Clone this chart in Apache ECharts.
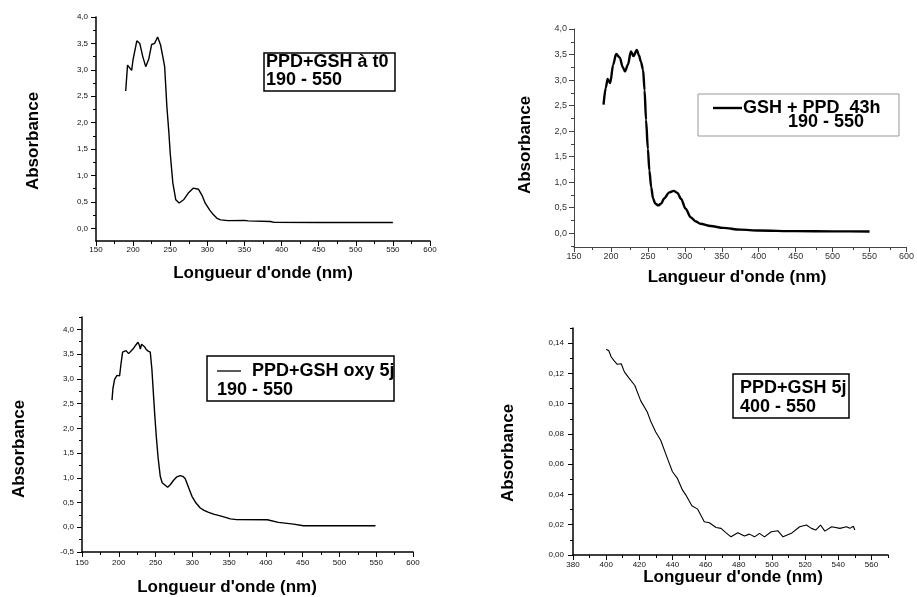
<!DOCTYPE html>
<html><head><meta charset="utf-8">
<script src="https://cdn.jsdelivr.net/npm/echarts@6/dist/echarts.min.js"></script>
<style>html,body{margin:0;padding:0;background:#fff}#c{width:917px;height:597px}</style>
</head><body><div id="c"></div>
<script>
// ---------- data ----------
const wl1 = [190,192.5,195,198,200,205,209,213,217,221,225,229,233,237,240,242.5,245.5,248,250,253.5,257.5,262,268,275,281,288,293,297,303,308,313,318,328,350,355,385,390,450,550];
const abs1 = [2.60,3.09,3.12,2.99,3.20,3.55,3.50,3.25,3.06,3.20,3.48,3.50,3.62,3.47,3.25,3.06,2.30,1.85,1.42,0.86,0.54,0.48,0.54,0.68,0.76,0.74,0.62,0.48,0.35,0.26,0.19,0.16,0.145,0.15,0.14,0.13,0.113,0.11,0.11];

const wl2 = [190,193,195.5,199,203,207,212,216,219,223,227,230.5,235,238,240.5,243.5,245.5,247.5,250,252,254.5,257,260,264,268,272,279,285,290,295,301,308,315,321,335,352,375,400,450,500,550];
const abs2 = [2.52,2.85,3.02,2.94,3.30,3.51,3.44,3.25,3.17,3.30,3.56,3.47,3.59,3.48,3.36,3.20,2.80,2.22,1.65,1.23,0.90,0.68,0.58,0.545,0.58,0.68,0.80,0.83,0.79,0.67,0.48,0.31,0.23,0.185,0.14,0.105,0.07,0.053,0.04,0.037,0.035];

const wl3 = [190.8,192,194.3,197.6,201.1,203,205.2,207,209.8,213.4,216,220.2,223,226.1,228,229.3,231,232.9,235,237,240,242.8,245,247.3,249,251,253.5,256.4,259,261,266.4,270,274.5,279,283.6,287,290.4,295,299.5,305,310.8,316,322.1,330,338,345,351.6,360,402,403,417,437.6,451,489,490.7,492,549];
const abs3 = [2.57,2.80,2.99,3.07,3.06,3.30,3.54,3.50,3.57,3.51,3.55,3.62,3.68,3.74,3.68,3.60,3.70,3.72,3.65,3.60,3.56,3.54,3.20,2.65,2.25,1.84,1.40,1.03,0.90,0.86,0.81,0.86,0.95,1.02,1.045,1.03,0.98,0.80,0.625,0.49,0.39,0.34,0.30,0.26,0.23,0.20,0.17,0.155,0.152,0.12,0.098,0.064,0.03,0.03,0.00,0.03,0.03];

const wl4 = [400,401.6,403,404.6,406.7,409.1,411,413.7,417.3,420.8,424.8,427,429.9,432.9,437,440,443,446,448.1,451.7,455.2,459.2,462.2,466.3,469.3,472,475.3,479.4,483.4,486.4,489.5,492.5,495.5,499.6,503.6,506.7,511.7,516.7,520.8,523.8,526.4,529.3,531.9,536,541,545,547,549.1,550];
const abs4 = [0.136,0.135,0.131,0.1286,0.126,0.1264,0.121,0.117,0.112,0.102,0.0945,0.088,0.0813,0.0758,0.0637,0.055,0.0506,0.043,0.0396,0.0325,0.0303,0.022,0.0213,0.0182,0.0176,0.015,0.012,0.0147,0.0125,0.0138,0.012,0.0143,0.012,0.0154,0.016,0.012,0.0143,0.0187,0.0198,0.0176,0.0165,0.0198,0.0158,0.0187,0.0176,0.0187,0.0176,0.019,0.0165];

// ---------- ticks ----------
const xMajorA = [150,200,250,300,350,400,450,500,550,600];
const xMinorA = [175,225,275,325,375,425,475,525,575];
const yMajor1 = [0,0.5,1,1.5,2,2.5,3,3.5,4];
const yMinor1 = [0.25,0.75,1.25,1.75,2.25,2.75,3.25,3.75];
const yMajor2 = [0,0.5,1,1.5,2,2.5,3,3.5,4];
const yMinor2 = [-0.25,0.25,0.75,1.25,1.75,2.25,2.75,3.25,3.75];
const yMajor3 = [-0.5,0,0.5,1,1.5,2,2.5,3,3.5,4];
const yMinor3 = [-0.25,0.25,0.75,1.25,1.75,2.25,2.75,3.25,3.75,4.25];
const xMajor4 = [380,400,420,440,460,480,500,520,540,560];
const xMinor4 = [390,410,430,450,470,490,510,530,550,570];
const yMajor4 = [0,0.02,0.04,0.06,0.08,0.10,0.12,0.14];
const yMinor4 = [0.01,0.03,0.05,0.07,0.09,0.11,0.13,0.15];

// ---------- texts ----------
const xTitles = ["Longueur d'onde (nm)","Langueur d'onde (nm)","Longueur d'onde (nm)","Longueur d'onde (nm)"];
const yTitle = "Absorbance";
const legendTexts = [
  ["PPD+GSH à t0","190 - 550"],
  ["GSH + PPD  43h","190 - 550"],
  ["PPD+GSH oxy 5j","190 - 550"],
  ["PPD+GSH 5j","400 - 550"]
];

const zip = (a,b) => a.map((v,i)=>[v,b[i]]);
const FONT = '"Liberation Sans", Arial, sans-serif';

const panels = [
  {rect:{left:96,top:17,width:334,height:224}, xr:[150,600], yr:[-0.24,4], xM:xMajorA, xm:xMinorA, yM:yMajor1, ym:yMinor1, dec:1, fs:8, lc:'#111', ac:'#000', aw:1.5, ylm:8, xlm:5, data:zip(wl1,abs1), lw:1.4, smooth:false},
  {rect:{left:574,top:29,width:335,height:218}, xr:[150,600], yr:[-0.27,4], xM:xMajorA, xm:xMinorA, yM:yMajor2, ym:yMinor2, dec:1, fs:9, lc:'#333', ac:'#444', aw:1, ylm:7, xlm:5, data:zip(wl2,abs2), lw:2.4, smooth:0.3},
  {rect:{left:82,top:317,width:331,height:235}, xr:[150,600], yr:[-0.5,4.25], xM:xMajorA, xm:xMinorA, yM:yMajor3, ym:yMinor3, dec:1, fs:8, lc:'#111', ac:'#000', aw:1.5, ylm:8, xlm:7, data:zip(wl3,abs3), lw:1.4, smooth:false},
  {rect:{left:573,top:328,width:315,height:227}, xr:[380,570], yr:[0,0.15], xM:xMajor4, xm:xMinor4, yM:yMajor4, ym:yMinor4, dec:2, fs:8, lc:'#111', ac:'#000', aw:1.5, ylm:9, xlm:6, data:zip(wl4,abs4), lw:1.1, smooth:false}
];

const grid=[], xAxis=[], yAxis=[], series=[];
panels.forEach(p=>{ grid.push(Object.assign({containLabel:false}, p.rect)); });
panels.forEach(p=>{ grid.push(Object.assign({containLabel:false}, p.rect)); });
panels.forEach((p,i)=>{
  xAxis.push({type:'value', gridIndex:i, min:p.xr[0], max:p.xr[1],
    axisLine:{onZero:false, lineStyle:{color:p.ac, width:p.aw}},
    axisTick:{length:5, customValues:p.xM, lineStyle:{color:p.ac, width:1}},
    axisLabel:{customValues:p.xM, fontSize:p.fs, color:p.lc, fontFamily:FONT, margin:p.xlm,
      formatter:v=>String(Math.round(v))},
    splitLine:{show:false}});
  yAxis.push({type:'value', gridIndex:i, min:p.yr[0], max:p.yr[1],
    axisLine:{show:true, onZero:false, lineStyle:{color:p.ac, width:p.aw}},
    axisTick:{show:true, length:5, customValues:p.yM, lineStyle:{color:p.ac, width:1}},
    axisLabel:{customValues:p.yM, fontSize:p.fs, color:p.lc, fontFamily:FONT, margin:p.ylm,
      formatter:v=>v.toFixed(p.dec).replace('.',',')},
    splitLine:{show:false}});
  series.push({type:'line', xAxisIndex:i, yAxisIndex:i, data:p.data, symbol:'none', showSymbol:false,
    smooth:p.smooth, smoothMonotone:'x', lineStyle:{color:'#000', width:p.lw}, animation:false});
});
panels.forEach((p,i)=>{
  xAxis.push({type:'value', gridIndex:4+i, min:p.xr[0], max:p.xr[1],
    axisLine:{show:false, onZero:false}, axisLabel:{show:false}, splitLine:{show:false},
    axisTick:{show:true, length:3, customValues:p.xm, lineStyle:{color:p.ac, width:1}}});
  yAxis.push({type:'value', gridIndex:4+i, min:p.yr[0], max:p.yr[1],
    axisLine:{show:false, onZero:false}, axisLabel:{show:false}, splitLine:{show:false},
    axisTick:{show:true, length:3, customValues:p.ym, lineStyle:{color:p.ac, width:1}}});
});

const titleFont = 'bold 17px ' + FONT;
const legFont = 'bold 18px ' + FONT;
const xTitlePos = [[263,273],[737,277],[227,587],[733,577]];
const yTitlePos = [[33,141],[525,145],[19,449],[508,453]];
const graphic = [];
xTitlePos.forEach((q,i)=>{
  graphic.push({type:'text', x:q[0], y:q[1], style:{text:xTitles[i], font:titleFont, fill:'#000', align:'center', verticalAlign:'middle'}});
});
yTitlePos.forEach((q,i)=>{
  graphic.push({type:'text', x:q[0], y:q[1], rotation:Math.PI/2, style:{text:yTitle, font:titleFont, fill:'#000', align:'center', verticalAlign:'middle'}});
});
// legend boxes
const boxes = [
  {r:[264,53,131,38], stroke:'#000', lw:1.5, t1:[266,62], t2:[266,80], line:null},
  {r:[698,94,201,42], stroke:'#999', lw:1, t1:[743,108], t2:[788,122], line:[713,742,108,2.4]},
  {r:[207,356,187,45], stroke:'#000', lw:1.5, t1:[252,371], t2:[217,390], line:[217,241,371,1.3]},
  {r:[733,374,116,44], stroke:'#000', lw:1.5, t1:[740,388], t2:[740,407], line:null}
];
boxes.forEach((b,i)=>{
  graphic.push({type:'rect', shape:{x:b.r[0], y:b.r[1], width:b.r[2], height:b.r[3]}, style:{fill:'#fff', stroke:b.stroke, lineWidth:b.lw}, z:10});
  if (b.line) graphic.push({type:'line', shape:{x1:b.line[0], y1:b.line[2], x2:b.line[1], y2:b.line[2]}, style:{stroke:'#000', lineWidth:b.line[3]}, z:11});
  graphic.push({type:'text', x:b.t1[0], y:b.t1[1], style:{text:legendTexts[i][0], font:legFont, fill:'#000', align:'left', verticalAlign:'middle'}, z:11});
  graphic.push({type:'text', x:b.t2[0], y:b.t2[1], style:{text:legendTexts[i][1], font:legFont, fill:'#000', align:'left', verticalAlign:'middle'}, z:11});
});

const chart = echarts.init(document.getElementById('c'), null, {renderer:'canvas'});
chart.setOption({backgroundColor:'#fff', animation:false, grid, xAxis, yAxis, series, graphic});
</script>
</body></html>
